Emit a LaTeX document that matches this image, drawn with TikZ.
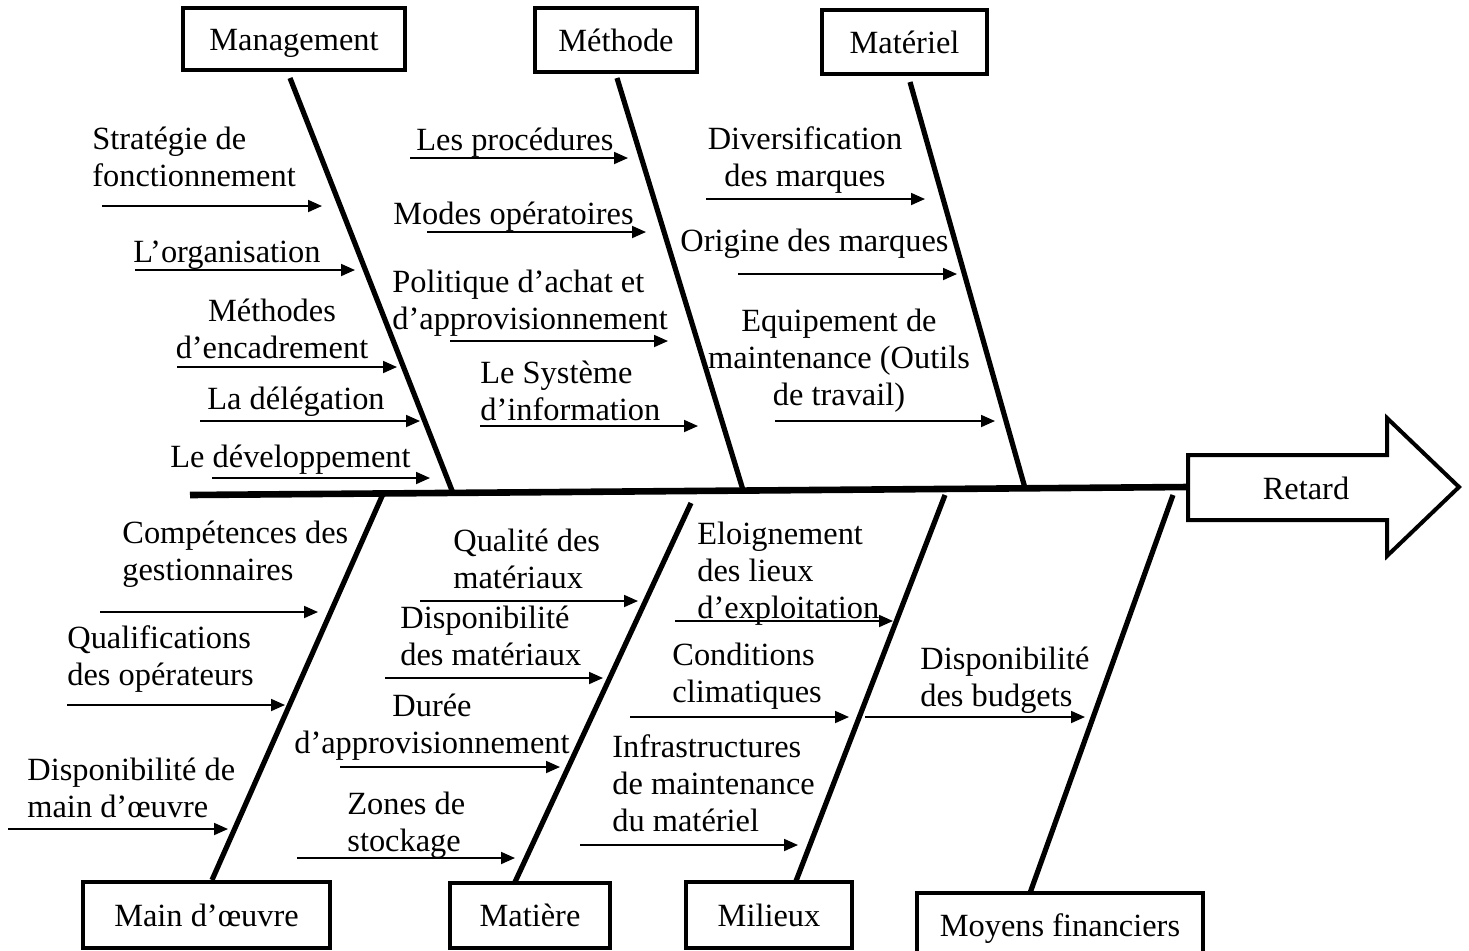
\documentclass[tikz,border=0pt]{standalone}
\usepackage{fontspec}
\setmainfont{Liberation Serif}
\usetikzlibrary{arrows.meta}
\begin{document}
\begin{tikzpicture}[x=0.5pt,y=-0.5pt,
  txt/.style={font=\fontsize{16.2}{18.5}\selectfont},
  cat/.style={txt,draw,line width=2pt,inner sep=0pt,text height=12pt,text depth=1pt},
  bone/.style={line width=2.6pt},
  spine/.style={line width=3.3pt},
  cause/.style={line width=0.9pt,-{Triangle[length=7pt,width=6pt]}},
  lbl/.style={txt,inner sep=0pt,align=left,anchor=base west},
  clbl/.style={txt,inner sep=0pt,align=center,anchor=base},
]
\useasboundingbox (0,0) rectangle (1469,950);

% ---- category boxes ----
\node[cat,minimum width=111pt,minimum height=31pt] (mgmt) at (294,39) {Management};
\node[cat,minimum width=81pt,minimum height=32pt] (meth) at (616,40) {Méthode};
\node[cat,minimum width=82.5pt,minimum height=32pt] (mat) at (904.5,42) {Matériel};
\node[cat,minimum width=123.5pt,minimum height=33pt] (mo) at (206.5,915) {Main d’œuvre};
\node[cat,minimum width=80pt,minimum height=32.5pt] (mp) at (530,915.5) {Matière};
\node[cat,minimum width=83pt,minimum height=33pt] (mil) at (769,915) {Milieux};
\node[cat,minimum width=143pt,minimum height=32pt] (fin) at (1060,925) {Moyens financiers};

% ---- effect arrow ----
\coordinate (tail) at (190,495);
\coordinate (rt) at (1188,487);
\draw[line width=2pt,line join=miter] (1188,455) -- (1387,455) -- (1387,418) -- (1459,487)
  -- (1387,556) -- (1387,520) -- (1188,520) -- cycle;
\node[txt,inner sep=0pt] (retard) at (1306,488) {Retard};
\draw[spine] (tail) -- (rt);

% ---- bones ----
\coordinate (t1) at (290,78);   \coordinate (s1) at (453,493);
\coordinate (t2) at (617,78);   \coordinate (s2) at (743,490);
\coordinate (t3) at (910,82);   \coordinate (s3) at (1025,488);
\coordinate (u1) at (383,494);  \coordinate (b1) at (212,880);
\coordinate (u2) at (691,503);  \coordinate (b2) at (515,882);
\coordinate (u3) at (945,495);  \coordinate (b3) at (796,881);
\coordinate (u4) at (1173,495); \coordinate (b4) at (1030,893);
\draw[bone] (t1) -- (s1);
\draw[bone] (t2) -- (s2);
\draw[bone] (t3) -- (s3);
\draw[bone] (u1) -- (b1);
\draw[bone] (u2) -- (b2);
\draw[bone] (u3) -- (b3);
\draw[bone] (u4) -- (b4);

% ---- Management causes (labels anchored on the baseline of their last line) ----
\node[lbl] (a1) at (92,186) {Stratégie de\\fonctionnement};
\node[lbl] (a2) at (133,262) {L’organisation};
\node[clbl] (a3) at (272,358) {Méthodes\\d’encadrement};
\node[lbl] (a4) at (207,409) {La délégation};
\node[lbl] (a5) at (170,467) {Le développement};
\coordinate (a1s) at (102,206); \coordinate (a1e) at (322,206);
\coordinate (a2s) at (135,270); \coordinate (a2e) at (355,270);
\coordinate (a3s) at (177,367); \coordinate (a3e) at (397,367);
\coordinate (a4s) at (200,421); \coordinate (a4e) at (420,421);
\coordinate (a5s) at (212,478); \coordinate (a5e) at (430,478);
\foreach \k in {1,...,5} \draw[cause] (a\k s) -- (a\k e);

% ---- Méthode causes ----
\node[lbl] (m1) at (416,150) {Les procédures};
\node[lbl] (m2) at (393,224) {Modes opératoires};
\node[lbl] (m3) at (392,329) {Politique d’achat et\\d’approvisionnement};
\node[lbl] (m4) at (480,420) {Le Système\\d’information};
\coordinate (m1s) at (410,158); \coordinate (m1e) at (628,158);
\coordinate (m2s) at (427,232); \coordinate (m2e) at (646,232);
\coordinate (m3s) at (450,341); \coordinate (m3e) at (668,341);
\coordinate (m4s) at (480,426); \coordinate (m4e) at (698,426);
\foreach \k in {1,...,4} \draw[cause] (m\k s) -- (m\k e);

% ---- Matériel causes ----
\node[clbl] (e1) at (805,186) {Diversification\\des marques};
\node[lbl] (e2) at (680,251) {Origine des marques};
\node[clbl] (e3) at (839,405) {Equipement de\\maintenance (Outils\\de travail)};
\coordinate (e1s) at (706,199); \coordinate (e1e) at (925,199);
\coordinate (e2s) at (738,274); \coordinate (e2e) at (957,274);
\coordinate (e3s) at (775,421); \coordinate (e3e) at (995,421);
\foreach \k in {1,...,3} \draw[cause] (e\k s) -- (e\k e);

% ---- Main d'œuvre causes ----
\node[lbl] (w1) at (122,580) {Compétences des\\gestionnaires};
\node[lbl] (w2) at (67,685) {Qualifications\\des opérateurs};
\node[lbl] (w3) at (27,817) {Disponibilité de\\main d’œuvre};
\coordinate (w1s) at (100,612); \coordinate (w1e) at (318,612);
\coordinate (w2s) at (67,705);  \coordinate (w2e) at (285,705);
\coordinate (w3s) at (8,829);   \coordinate (w3e) at (228,829);
\foreach \k in {1,...,3} \draw[cause] (w\k s) -- (w\k e);

% ---- Matière causes ----
\node[lbl] (p1) at (453,588) {Qualité des\\matériaux};
\node[lbl] (p2) at (400,665) {Disponibilité\\des matériaux};
\node[clbl] (p3) at (432,753) {Durée\\d’approvisionnement};
\node[lbl] (p4) at (347,851) {Zones de\\stockage};
\coordinate (p1s) at (420,601); \coordinate (p1e) at (638,601);
\coordinate (p2s) at (385,678); \coordinate (p2e) at (603,678);
\coordinate (p3s) at (340,767); \coordinate (p3e) at (560,767);
\coordinate (p4s) at (297,858); \coordinate (p4e) at (515,858);
\foreach \k in {1,...,4} \draw[cause] (p\k s) -- (p\k e);

% ---- Milieux causes ----
\node[lbl] (l1) at (697,618) {Eloignement\\des lieux\\d’exploitation};
\node[lbl] (l2) at (672,702) {Conditions\\climatiques};
\node[lbl] (l3) at (612,831) {Infrastructures\\de maintenance\\du matériel};
\coordinate (l1s) at (675,621); \coordinate (l1e) at (893,621);
\coordinate (l2s) at (630,717); \coordinate (l2e) at (849,717);
\coordinate (l3s) at (580,845); \coordinate (l3e) at (798,845);
\foreach \k in {1,...,3} \draw[cause] (l\k s) -- (l\k e);

% ---- Moyens financiers causes ----
\node[lbl] (f1) at (920,706) {Disponibilité\\des budgets};
\coordinate (f1s) at (865,717); \coordinate (f1e) at (1085,717);
\draw[cause] (f1s) -- (f1e);
\end{tikzpicture}
\end{document}
